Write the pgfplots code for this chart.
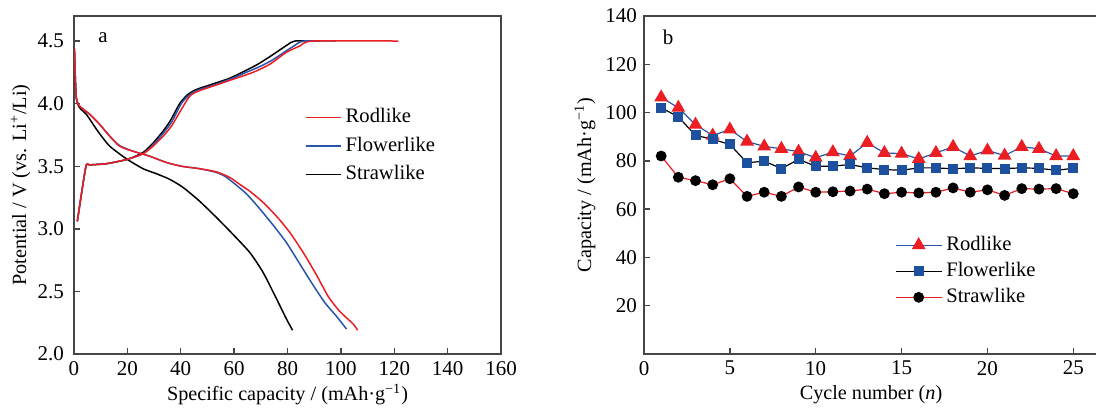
\documentclass[border=0pt]{standalone}
\usepackage{fontspec}
\setmainfont{Liberation Serif}
\usepackage{pgfplots}
\pgfplotsset{compat=1.18}
\definecolor{cred}{RGB}{235,30,35}
\definecolor{cblue}{RGB}{40,85,170}
\definecolor{sqblue}{RGB}{30,80,160}
\definecolor{axgray}{RGB}{70,70,70}
\begin{document}
\begin{tikzpicture}
\pgfplotsset{
  every axis/.append style={
    scale only axis, height=169pt,
    tick align=inside, tick pos=left,
    axis line style={axgray, line width=0.8pt},
    every tick/.style={axgray, line width=0.7pt},
    major tick length=3pt,
    /pgf/number format/assume math mode=true,
    tick label style={font=\fontsize{10.5}{12}\selectfont},
    label style={font=\fontsize{10.1}{12}\selectfont},
    legend style={draw=none, fill=none, font=\fontsize{10.3}{12}\selectfont, row sep=1.6pt, inner sep=0pt},
    legend cell align=left,
  }
}
% ---------------- panel a ----------------
\begin{axis}[name=a, at={(0,0)}, anchor=south west,
  width=213.5pt,
  xmin=0, xmax=160, ymin=2, ymax=4.7,
  xtick={0,20,...,160}, ytick={2,2.5,3,3.5,4,4.5},
  yticklabel style={xshift=-1.5pt, /pgf/number format/.cd, fixed, fixed zerofill, precision=1},
  xlabel={Specific capacity / (mAh·g\textsuperscript{−1})},
  ylabel={Potential / V (vs. Li\textsuperscript{+}/Li)},
  xlabel style={at={(axis description cs:0.5,-0.12)}, anchor=center},
  ylabel style={at={(axis description cs:-0.125,0.5)}, anchor=center, rotate=0},
  legend style={at={(axis cs:86.5,3.995)}, anchor=north west},
  legend image code/.code={\draw[#1] (0pt,0pt) -- (17.5pt,0pt);},
]
\addlegendimage{cred, line width=0.75pt}\addlegendentry{Rodlike}
\addlegendimage{cblue, line width=0.75pt}\addlegendentry{Flowerlike}
\addlegendimage{black, line width=0.75pt}\addlegendentry{Strawlike}
% Strawlike charge
\addplot[black, line width=0.75pt, smooth, tension=0.4, forget plot] coordinates {
(1.25,3.06) (4.4,3.49) (5.9,3.51) (12.1,3.52) (20,3.555) (25.9,3.61) (29.4,3.68)
(33,3.77) (36,3.86) (39.6,4.0) (42.5,4.07) (45.5,4.11) (51,4.15) (58,4.2)
(63,4.25) (68.5,4.31) (73,4.37) (76.5,4.42) (80,4.47) (82.7,4.5) (92,4.5)};
% Strawlike discharge
\addplot[black, line width=0.75pt, smooth, tension=0.4, forget plot] coordinates {
(0.15,4.44) (0.5,4.2) (0.9,4.04) (2,3.97) (4.6,3.915) (7,3.84) (9.6,3.76) (13.4,3.66)
(19.6,3.56) (25.9,3.48) (30.9,3.44) (35.9,3.395) (40.9,3.33) (47.1,3.22)
(53.4,3.09) (59.6,2.955) (65.9,2.81) (70.9,2.65) (75.9,2.44) (79.6,2.28) (81.9,2.19)};
% Flowerlike charge
\addplot[cblue, line width=0.75pt, smooth, tension=0.4, forget plot] coordinates {
(1.25,3.06) (4.4,3.49) (5.9,3.51) (12.1,3.52) (20,3.555) (25.9,3.6) (29.6,3.67)
(33.3,3.76) (36.5,3.85) (40.2,4.0) (43.2,4.07) (46,4.105) (52,4.145) (59,4.2)
(64,4.245) (70,4.3) (74.5,4.35) (78,4.4) (82,4.455) (86,4.5) (98,4.5)};
% Flowerlike discharge
\addplot[cblue, line width=0.75pt, smooth, tension=0.4, forget plot] coordinates {
(0.15,4.44) (0.5,4.2) (0.9,4.04) (2.1,3.98) (5.9,3.915) (9.6,3.835) (13.4,3.74)
(17.1,3.665) (22.1,3.62) (28.4,3.58) (34.6,3.53) (40.25,3.50) (47.1,3.48)
(53.4,3.45) (56.5,3.42) (59.6,3.37) (64.6,3.28) (69.6,3.16) (74.6,3.03)
(79.6,2.89) (84.6,2.72) (89.6,2.55) (94,2.41) (98.4,2.30) (102.1,2.20)};
% Rodlike charge
\addplot[cred, line width=0.75pt, smooth, tension=0.4, forget plot] coordinates {
(1.25,3.06) (4.4,3.49) (5.9,3.51) (12.1,3.52) (20,3.555) (25.9,3.60) (29.6,3.66)
(33.4,3.74) (36.5,3.82) (40.25,3.955) (43.4,4.06) (46.5,4.10) (52.1,4.14)
(59.6,4.195) (67.1,4.25) (73.4,4.315) (79.6,4.41) (84.6,4.46) (89.6,4.5) (121.5,4.5)};
% Rodlike discharge
\addplot[cred, line width=0.75pt, smooth, tension=0.4, forget plot] coordinates {
(0.15,4.44) (0.5,4.2) (0.9,4.04) (2.1,3.98) (5.9,3.915) (9.6,3.835) (13.4,3.74)
(17.1,3.66) (22.1,3.62) (28.4,3.58) (34.6,3.53) (40.25,3.50) (47.1,3.48)
(53.4,3.455) (58.4,3.41) (62.1,3.355) (65.9,3.30) (70.9,3.21) (75.9,3.10)
(80.9,2.97) (85.9,2.81) (90.9,2.63) (95.25,2.46) (99.6,2.34) (104.6,2.24) (106.25,2.19)};
\node[font=\fontsize{10.5}{12}\selectfont] at (axis cs:10.9,4.53) {a};
\end{axis}
% ---------------- panel b ----------------
\begin{axis}[name=b, at={(285pt,0)}, anchor=south west,
  width=227pt,
  xmin=0, xmax=26.44, ymin=0, ymax=140,
  xtick={0,5,...,25}, ytick={20,40,...,140},
  xlabel={Cycle number (\textit{n})},
  ylabel={Capacity / (mAh·g\textsuperscript{−1})},
  xlabel style={at={(axis description cs:0.5,-0.12)}, anchor=center},
  ylabel style={at={(axis description cs:-0.13,0.5)}, anchor=center},
  legend style={at={(axis cs:14.6,50.5)}, anchor=north west, row sep=0.4pt},
  legend image code/.code={\draw[mark repeat=2, mark phase=2, #1] plot coordinates {(0pt,0pt) (11.5pt,0pt) (23pt,0pt)};},
]
\addplot[cblue, line width=0.6pt, mark=triangle*, mark size=3.4pt, mark options={cred, draw=cred}] coordinates {
(1,106.3) (2,102) (3,95) (4,90.5) (5,93) (6,88) (7,86) (8,85) (9,83.8) (10,81.3)
(11,83.6) (12,82) (13,87.5) (14,83.3) (15,83) (16,80.8) (17,83.3) (18,85.8)
(19,82) (20,84.3) (21,82.2) (22,85.8) (23,85) (24,82) (25,82)};
\addlegendentry{Rodlike}
\addplot[black, line width=0.6pt, mark=square*, mark size=2.2pt, mark options={sqblue, draw=sqblue}] coordinates {
(1,102) (2,98.2) (3,90.6) (4,88.9) (5,86.8) (6,79.2) (7,79.9) (8,76.8) (9,80.6)
(10,77.8) (11,77.8) (12,78.5) (13,77.1) (14,76.4) (15,76.1) (16,77.1) (17,77.1)
(18,76.7) (19,77.1) (20,76.9) (21,76.8) (22,77.1) (23,76.9) (24,76.1) (25,76.9)};
\addlegendentry{Flowerlike}
\addplot[cred, line width=0.6pt, mark=*, mark size=2.4pt, mark options={black, draw=black}] coordinates {
(1,82) (2,73.2) (3,71.8) (4,70.1) (5,72.6) (6,65.3) (7,67) (8,65.3) (9,69.2)
(10,67) (11,67.2) (12,67.5) (13,68.3) (14,66.4) (15,67) (16,66.7) (17,67)
(18,68.8) (19,67) (20,68) (21,65.7) (22,68.5) (23,68.3) (24,68.5) (25,66.4)};
\addlegendentry{Strawlike}
\node[font=\fontsize{10.5}{12}\selectfont] at (axis cs:1.4,131) {b};
\end{axis}
\pgfresetboundingbox
\path[use as bounding box] (-37pt,-27pt) rectangle (511pt,177pt);
\end{tikzpicture}
\end{document}
